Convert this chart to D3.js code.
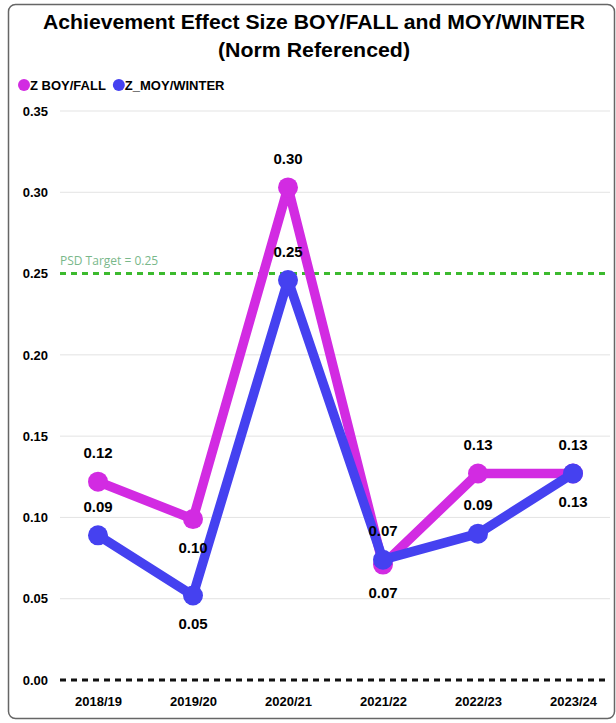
<!DOCTYPE html>
<html><head><meta charset="utf-8">
<script src="https://cdn.jsdelivr.net/npm/d3@7"></script>
<style>body{margin:0;background:#fff;font-family:"Liberation Sans",Arial,sans-serif}</style>
</head><body><svg id="c" width="616" height="723"></svg>
<script>
const categories = ["2018/19","2019/20","2020/21","2021/22","2022/23","2023/24"];
const boyFall = [0.122, 0.099, 0.303, 0.071, 0.127, 0.127];
const moyWinter = [0.089, 0.052, 0.246, 0.074, 0.090, 0.127];
const boyLabelPos = ["above","below","above","below","above","above"];
const moyLabelPos = ["above","below","above","above","above","below"];
const yTicks = [0, 0.05, 0.10, 0.15, 0.20, 0.25, 0.30, 0.35];
const target = 0.25;
const seriesNames = ["Z BOY/FALL","Z_MOY/WINTER"];
const colors = ["#d22be2","#4541f0"];

const svg = d3.select("#c");
svg.append("rect").attr("x",8.5).attr("y",4.5).attr("width",606).attr("height",714).attr("rx",7)
  .attr("fill","#fff").attr("stroke","#666").attr("stroke-width",1.5);

svg.append("text").attr("x",314).attr("y",29).attr("text-anchor","middle")
  .attr("font-size",20).attr("font-weight","bold")
  .attr("textLength",542).attr("lengthAdjust","spacingAndGlyphs")
  .text("Achievement Effect Size BOY/FALL and MOY/WINTER");
svg.append("text").attr("x",314).attr("y",57).attr("text-anchor","middle")
  .attr("font-size",20).attr("font-weight","bold")
  .attr("textLength",192).attr("lengthAdjust","spacingAndGlyphs")
  .text("(Norm Referenced)");

// legend
const leg = svg.append("g");
let lx = 24;
seriesNames.forEach((n,i)=>{
  leg.append("circle").attr("cx",lx).attr("cy",85).attr("r",6).attr("fill",colors[i]);
  const t = leg.append("text").attr("x",lx+6).attr("y",89.5).attr("font-size",13).attr("font-weight","bold").text(n);
  lx += t.node().getComputedTextLength() + 19;
});

const x = d3.scalePoint().domain(categories).range([50.5,620.5]).padding(0.5);
const y = d3.scaleLinear().domain([0,0.35]).range([680,111]);

// grid
svg.append("g").selectAll("line").data(yTicks.filter(d=>d>0 && d!==target)).join("line")
  .attr("x1",60).attr("x2",610).attr("y1",d=>y(d)).attr("y2",d=>y(d))
  .attr("stroke","#e3e3e3").attr("stroke-width",1);

// y axis labels
const yAxis = d3.axisLeft(y).tickValues(yTicks).tickFormat(d3.format(".2f")).tickSize(0).tickPadding(0);
const ya = svg.append("g").attr("transform","translate(48,0)").call(yAxis);
ya.select(".domain").remove();
ya.selectAll("text").attr("font-size",13).attr("font-weight","bold").attr("fill","#000")
  .attr("font-family","Liberation Sans, Arial, sans-serif");

// x axis labels
const xAxis = d3.axisBottom(x).tickSize(0).tickPadding(0);
const xa = svg.append("g").attr("transform","translate(0,697)").call(xAxis);
xa.select(".domain").remove();
xa.selectAll("text").attr("font-size",13).attr("font-weight","bold").attr("fill","#000")
  .attr("font-family","Liberation Sans, Arial, sans-serif");

// zero line
svg.append("line").attr("x1",60).attr("x2",610).attr("y1",y(0)).attr("y2",y(0))
  .attr("stroke","#111").attr("stroke-width",3).attr("stroke-dasharray","6,5");
// target line
svg.append("line").attr("x1",60).attr("x2",610).attr("y1",y(target)).attr("y2",y(target))
  .attr("stroke","#3cba2e").attr("stroke-width",3).attr("stroke-dasharray","6,5");
svg.append("text").attr("x",60).attr("y",y(target)-9).attr("font-size",12)
  .attr("font-family","Open Sans, sans-serif").attr("fill","#79b88a").text("PSD Target = " + target.toFixed(2));

const line = d3.line().x((d,i)=>x(categories[i])).y(d=>y(d));
[boyFall, moyWinter].forEach((vals,si)=>{
  const g = svg.append("g");
  g.append("path").datum(vals).attr("d",line).attr("fill","none")
    .attr("stroke",colors[si]).attr("stroke-width",9.5).attr("stroke-linejoin","round");
  g.selectAll("circle").data(vals).join("circle")
    .attr("cx",(d,i)=>x(categories[i])).attr("cy",d=>y(d)).attr("r",10).attr("fill",colors[si]);
});
[[boyFall,boyLabelPos],[moyWinter,moyLabelPos]].forEach(([vals,pos])=>{
  svg.append("g").selectAll("text").data(vals).join("text")
    .attr("x",(d,i)=>x(categories[i])).attr("y",(d,i)=>y(d)+(pos[i]==="above"?-29:28)+5.5)
    .attr("text-anchor","middle").attr("font-size",15).attr("font-weight","bold")
    .text(d=>d.toFixed(2));
});
</script></body></html>
